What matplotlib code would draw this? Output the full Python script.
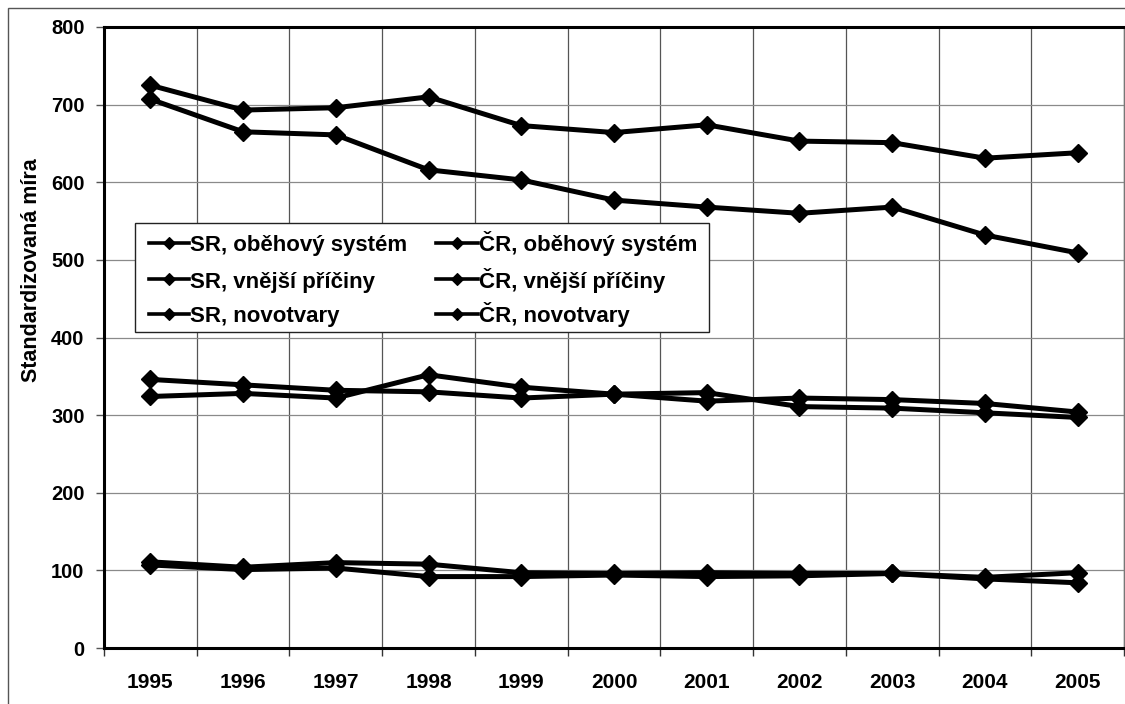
import numpy as np
import matplotlib as mpl
import matplotlib.pyplot as plt
from matplotlib.patches import Rectangle
from matplotlib.lines import Line2D

mpl.rcParams['font.family'] = ['Liberation Sans', 'DejaVu Sans']
mpl.rcParams['font.weight'] = 'bold'

years = ["1995", "1996", "1997", "1998", "1999", "2000",
         "2001", "2002", "2003", "2004", "2005"]

# standardized mortality rates per cause of death
sr_obehovy = [725, 693, 696, 710, 673, 664, 674, 653, 651, 631, 638]
cr_obehovy = [707, 665, 661, 616, 603, 577, 568, 560, 568, 532, 509]
sr_vnejsi = [111, 104, 110, 108, 97, 96, 97, 96, 96, 91, 97]
cr_vnejsi = [107, 101, 103, 92, 92, 94, 92, 93, 96, 89, 84]
sr_novotvary = [346, 339, 332, 330, 322, 327, 329, 311, 309, 303, 297]
cr_novotvary = [324, 328, 322, 352, 336, 327, 318, 322, 320, 315, 304]

series = [
    ("SR, oběhový systém", sr_obehovy),
    ("SR, vnější příčiny", sr_vnejsi),
    ("SR, novotvary", sr_novotvary),
    ("ČR, oběhový systém", cr_obehovy),
    ("ČR, vnější příčiny", cr_vnejsi),
    ("ČR, novotvary", cr_novotvary),
]

W, H = 1125, 704
fig = plt.figure(figsize=(W / 100, H / 100), dpi=100)
ax = fig.add_axes([104 / W, 1 - 648 / H, (1124 - 104) / W, (648 - 27) / H])

x = np.arange(len(years))
for label, vals in series:
    ax.plot(x, vals, color="black", lw=3.6, marker="D", ms=9,
            mew=1, label=label, zorder=3)

ax.set_xlim(-0.5, len(years) - 0.5)
ax.set_ylim(0, 800)
ax.set_yticks(np.arange(0, 801, 100))
ax.set_xticks(x)
ax.set_xticklabels(years)
ax.set_xticks(np.arange(-0.5, len(years)), minor=True)
ax.tick_params(axis="x", which="major", length=0, pad=18, labelsize=15)
ax.tick_params(axis="x", which="minor", length=6, width=1, color="#333333",
               direction="out")
ax.tick_params(axis="y", length=6, width=1, color="#555555", pad=8,
               labelsize=14.5)

ax.grid(axis="y", which="major", color="#8a8a8a", lw=0.9)
ax.grid(axis="x", which="minor", color="#555555", lw=0.9)
ax.set_axisbelow(True)

for side in ["left", "bottom", "top"]:
    ax.spines[side].set_linewidth(2.2)
    ax.spines[side].set_color("black")
ax.spines["right"].set_linewidth(1)
ax.spines["right"].set_color("#777777")

fig.text(32 / W, 1 - 270 / H, "Standardizovaná míra", rotation=90,
         ha="center", va="center", fontsize=15.5, fontweight="bold")

# legend box: two columns, three rows (pixel layout)
def fx(px):
    return px / W

def fy(py):
    return 1 - py / H

fig.patches.append(Rectangle((fx(134.5), fy(332)), fx(709) - fx(134.5),
                             fy(223) - fy(332), transform=fig.transFigure,
                             facecolor="white", edgecolor="#222222", lw=1,
                             zorder=5))
row_mid = [243, 279, 314]
col_handle = [(149, 189), (436, 478)]
for i, (label, _) in enumerate(series):
    col, row = divmod(i, 3)
    x0, x1 = col_handle[col]
    ym = fy(row_mid[row])
    fig.add_artist(Line2D([fx(x0), fx(x1)], [ym, ym], color="black",
                          lw=2.6, transform=fig.transFigure, zorder=6))
    fig.add_artist(Line2D([fx((x0 + x1) / 2)], [ym], color="black",
                          marker="D", ms=6.5, mew=0.8,
                          transform=fig.transFigure, zorder=7))
    fig.text(fx(x1 + 1), fy(row_mid[row] + 8.5), label, fontsize=16,
             fontweight="bold", ha="left", va="baseline", zorder=7)

# outer frame around the whole chart
fig.patches.append(Rectangle((8 / W, -0.05), 1.1, 1 - 8 / H + 0.05,
                             transform=fig.transFigure, fill=False,
                             edgecolor="#555555", lw=1))

fig.savefig("out.png", dpi=100)
